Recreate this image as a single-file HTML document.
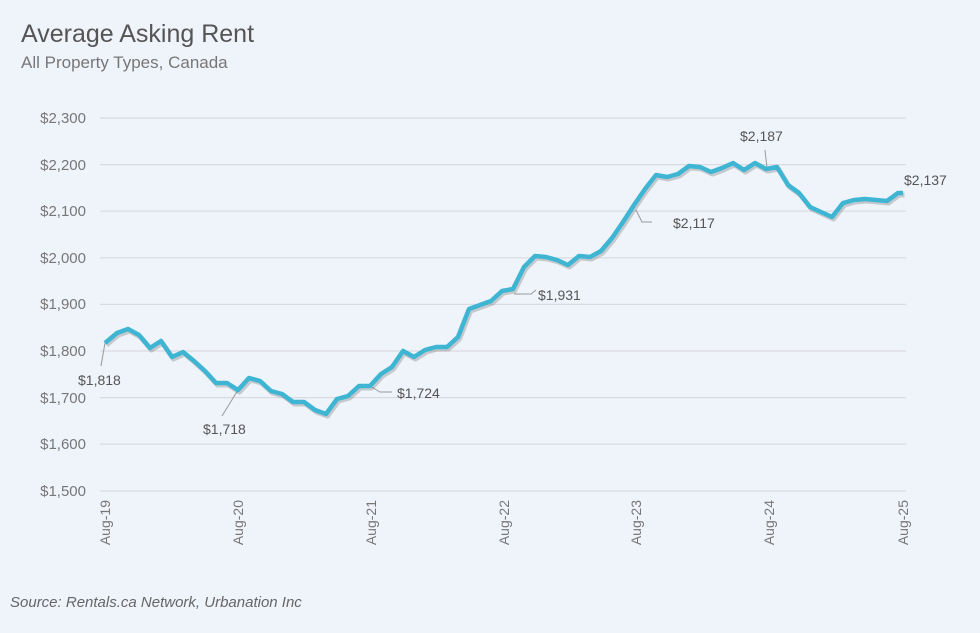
<!DOCTYPE html><html><head><style>
body{margin:0;background:#eff3fa;font-family:"Liberation Sans",sans-serif;}
</style></head><body>
<svg width="980" height="633" xmlns="http://www.w3.org/2000/svg" style="display:block">
<rect width="980" height="633" fill="#eff3fa"/>
<text x="21" y="42" font-size="25" fill="#555">Average Asking Rent</text>
<text x="21" y="68" font-size="17" fill="#777">All Property Types, Canada</text>
<g stroke="#d9dbe0" stroke-width="1.2">
<line x1="100" x2="906" y1="118" y2="118"/><line x1="100" x2="906" y1="164.6" y2="164.6"/>
<line x1="100" x2="906" y1="211.2" y2="211.2"/><line x1="100" x2="906" y1="257.8" y2="257.8"/>
<line x1="100" x2="906" y1="304.4" y2="304.4"/><line x1="100" x2="906" y1="351" y2="351"/>
<line x1="100" x2="906" y1="397.6" y2="397.6"/><line x1="100" x2="906" y1="444.2" y2="444.2"/>
<line x1="100" x2="906" y1="491" y2="491"/></g>
<g font-size="15" fill="#777" text-anchor="end">
<text x="86" y="123">$2,300</text><text x="86" y="170">$2,200</text><text x="86" y="216">$2,100</text>
<text x="86" y="263">$2,000</text><text x="86" y="309">$1,900</text><text x="86" y="356">$1,800</text>
<text x="86" y="403">$1,700</text><text x="86" y="449">$1,600</text><text x="86" y="496">$1,500</text></g>
<g font-size="14" fill="#777" text-anchor="end">
<text transform="translate(110,500) rotate(-90)">Aug-19</text>
<text transform="translate(243,500) rotate(-90)">Aug-20</text>
<text transform="translate(376,500) rotate(-90)">Aug-21</text>
<text transform="translate(509,500) rotate(-90)">Aug-22</text>
<text transform="translate(641,500) rotate(-90)">Aug-23</text>
<text transform="translate(774,500) rotate(-90)">Aug-24</text>
<text transform="translate(908,500) rotate(-90)">Aug-25</text></g>
<g stroke="#999" stroke-width="1" fill="none">
<polyline points="105,343 101,366"/><polyline points="238,390 222,416"/>
<polyline points="370,386 380,392 392,392"/><polyline points="536,290 531,294 532,294"/>
<polyline points="514,294 530,294"/><polyline points="636,210 642,222 652,222"/>
<polyline points="767,168 765,150"/>
</g>
<polyline fill="none" stroke="#777" stroke-opacity="0.35" stroke-width="5" stroke-linejoin="round" transform="translate(1.5,2)" points="105,343 117,333 128,329 139,335 150,348 161,341 172,357 183,352 194,361 205,371 216,383 227,383 238,390 249,378 260,381 271,391 282,394 293,402 304,402 315,410 326,414 337,399 348,396 359,386 370,386 381,374 392,367 403,351 414,357 425,350 436,347 447,347 458,337 469,309 480,305 491,301 502,291 513,289 524,267 535,256 546,257 557,260 568,265 579,256 590,257 601,251 612,238 623,222 634,205 645,189 656,175 667,177 678,174 689,166 700,167 711,172 722,168 733,163 744,170 755,163 766,169 777,167 788,185 799,193 810,207 821,212 832,217 843,203 854,200 865,199 876,200 887,201 898,193 903,193"/>
<polyline fill="none" stroke="#3db5d3" stroke-width="4.5" stroke-linejoin="round" points="105,343 117,333 128,329 139,335 150,348 161,341 172,357 183,352 194,361 205,371 216,383 227,383 238,390 249,378 260,381 271,391 282,394 293,402 304,402 315,410 326,414 337,399 348,396 359,386 370,386 381,374 392,367 403,351 414,357 425,350 436,347 447,347 458,337 469,309 480,305 491,301 502,291 513,289 524,267 535,256 546,257 557,260 568,265 579,256 590,257 601,251 612,238 623,222 634,205 645,189 656,175 667,177 678,174 689,166 700,167 711,172 722,168 733,163 744,170 755,163 766,169 777,167 788,185 799,193 810,207 821,212 832,217 843,203 854,200 865,199 876,200 887,201 898,193 903,193"/>
<g font-size="14" fill="#555">
<text x="78" y="385">$1,818</text><text x="203" y="434">$1,718</text><text x="397" y="398">$1,724</text>
<text x="538" y="300">$1,931</text><text x="673" y="228">$2,117</text><text x="740" y="141">$2,187</text>
<text x="904" y="185">$2,137</text></g>
<text x="10" y="607" font-size="15" font-style="italic" fill="#666">Source: Rentals.ca Network, Urbanation Inc</text>
</svg></body></html>
